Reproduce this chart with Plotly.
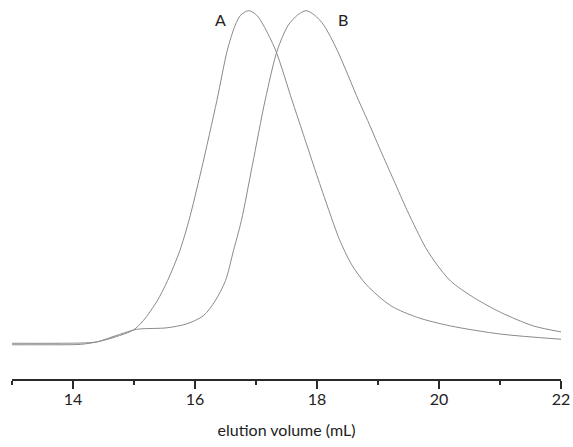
import plotly.graph_objects as go

# Elution volume (mL) and normalized detector signal
x_a = [13.00, 13.79, 14.20, 14.40, 14.69, 14.99, 15.15, 15.38, 15.55, 15.75, 15.90, 16.10,
       16.36, 16.53, 16.66, 16.75, 16.88, 17.01, 17.12, 17.32, 17.59, 17.67, 17.84, 18.00,
       18.19, 18.37, 18.57, 18.81, 19.21, 19.65, 20.19, 21.01, 22.00]
y_a = [0.097, 0.097, 0.098, 0.101, 0.114, 0.133, 0.158, 0.212, 0.267, 0.348, 0.430, 0.565,
       0.757, 0.893, 0.961, 0.988, 1.000, 0.988, 0.961, 0.893, 0.757, 0.717, 0.632, 0.552,
       0.460, 0.378, 0.310, 0.256, 0.199, 0.167, 0.144, 0.122, 0.108]

x_b = [13.00, 13.79, 14.12, 14.40, 14.69, 14.99, 15.10, 15.54, 15.87, 16.14, 16.33, 16.50,
       16.63, 16.76, 16.94, 17.15, 17.35, 17.53, 17.68, 17.82, 17.96, 18.11, 18.33, 18.68,
       18.83, 19.04, 19.26, 19.48, 19.78, 19.96, 20.19, 20.57, 21.01, 21.55, 22.00]
y_b = [0.093, 0.093, 0.094, 0.101, 0.117, 0.133, 0.136, 0.139, 0.150, 0.172, 0.212, 0.267,
       0.348, 0.430, 0.580, 0.757, 0.893, 0.961, 0.988, 1.000, 0.988, 0.961, 0.893, 0.757,
       0.702, 0.621, 0.539, 0.457, 0.357, 0.312, 0.266, 0.221, 0.181, 0.144, 0.128]

labels = ["A", "B"]
label_x = [16.42, 18.43]
label_y = [0.977, 0.977]

tick_vals = [14, 16, 18, 20, 22]
tick_text = ["14", "16", "18", "20", "22"]
minor_vals = [13, 15, 17, 19, 21]

line_color = "#8a8a8a"
axis_color = "#2a2a2a"
font_family = "Lato, Open Sans, sans-serif"

fig = go.Figure()
for xs, ys, name in [(x_a, y_a, labels[0]), (x_b, y_b, labels[1])]:
    fig.add_trace(go.Scatter(x=xs, y=ys, mode="lines", name=name,
                             line=dict(color=line_color, width=1, shape="spline", smoothing=0.8),
                             showlegend=False, hoverinfo="skip", cliponaxis=False))

for t, lx, ly in zip(labels, label_x, label_y):
    fig.add_annotation(x=lx, y=ly, text=t, showarrow=False,
                       font=dict(family=font_family, size=16, color="#222222"))

fig.update_layout(
    width=573, height=447,
    margin=dict(l=12, r=12, t=0, b=68, autoexpand=False),
    paper_bgcolor="white", plot_bgcolor="white",
    font=dict(family=font_family, size=16, color="#222222"),
    xaxis=dict(
        range=[13, 22], showgrid=False, zeroline=False, automargin=False,
        showline=True, linecolor=axis_color, linewidth=2,
        ticks="outside", ticklen=8, tickwidth=1.5, tickcolor=axis_color,
        tickvals=tick_vals, ticktext=tick_text, ticklabelstandoff=-3,
        minor=dict(tickvals=minor_vals, ticks="outside", ticklen=4,
                   tickwidth=1.5, tickcolor=axis_color),
        title=dict(text="elution volume (mL)", font=dict(size=16), standoff=18),
    ),
    yaxis=dict(range=[0, 1.029], visible=False, showgrid=False, zeroline=False),
)

fig.write_html(
    "out.html",
    config={"displayModeBar": False},
    post_script="document.body.style.margin='0';document.body.style.overflow='hidden';",
)
